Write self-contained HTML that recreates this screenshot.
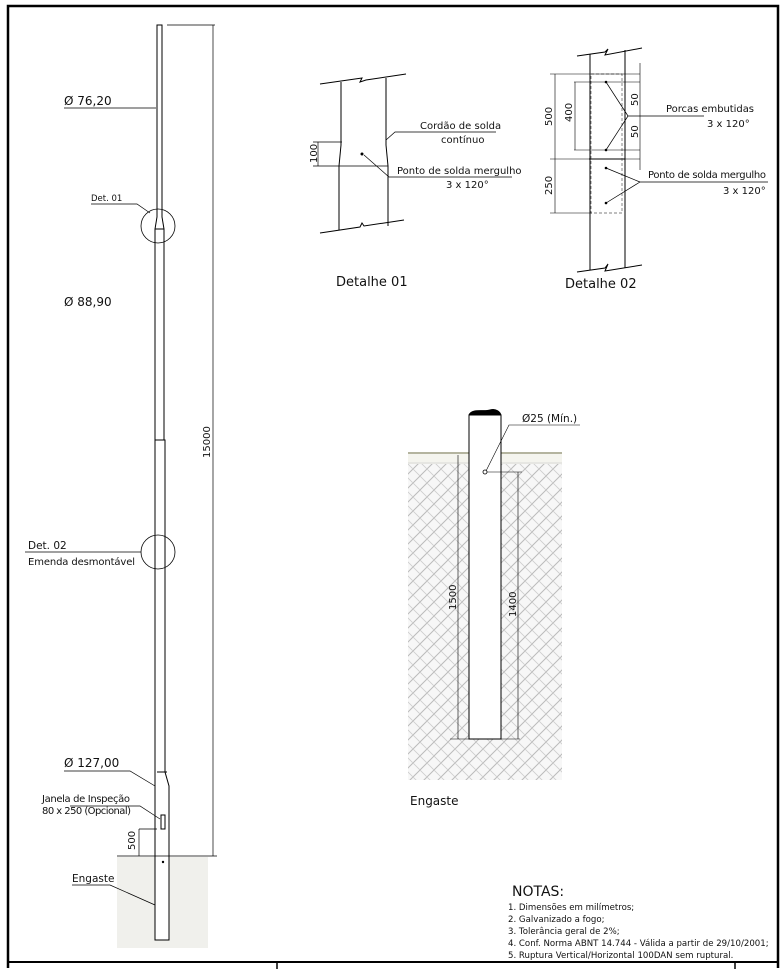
<!DOCTYPE html>
<html><head><meta charset="utf-8"><style>
body{margin:0;background:#fff}
svg{display:block}
text{font-family:"DejaVu Sans","Liberation Sans",sans-serif;fill:#111}
</style></head><body>
<svg width="780" height="969" viewBox="0 0 780 969" xmlns="http://www.w3.org/2000/svg">
<defs>
<pattern id="hat" width="14" height="14" patternUnits="userSpaceOnUse">
<rect width="14" height="14" fill="#f7f7f7"/>
<path d="M0 14L14 0M-3 3L3 -3M11 17L17 11" stroke="#bbb" stroke-width="1"/>
<path d="M0 0L7 7M7 7L14 14" stroke="#ccc" stroke-width="0.8"/>
</pattern>
</defs>
<g stroke="#000" fill="none">
<path d="M8 968V6H778V968" stroke-width="2.5"/>
<path d="M8 962H778" stroke-width="2"/>
<path d="M277 962V969M735 962V969" stroke-width="1.5"/>
</g>
<rect x="117" y="857" width="91" height="91" fill="#f0f0ec"/>
<g stroke="#000" fill="none" stroke-width="1">
<path d="M157 25H162V217L164 229V440H165V772L169 786V940H155V786V440H155V229L157 217Z" fill="#fff"/>
<path d="M155 229H164M155 440H165M157 772H167"/>
<circle cx="158" cy="226" r="17" stroke-width="0.8"/>
<circle cx="158" cy="552" r="17" stroke-width="0.8"/>
<rect x="161" y="815" width="4" height="14" fill="#fff"/>
<path d="M167 25H215M213 25V856M117 856H217M139 829H157M139 829V856" stroke-width="0.7"/>
<path d="M64 108H156M91 204H137L150 213M64 771H130L155 786M70 806H140L160 819M72 885H110L155 905" stroke-width="0.7"/>
<path d="M25 552H141" stroke-width="0.7"/>
</g>
<circle cx="163" cy="862" r="1.2" fill="#000"/>
<text x="64" y="105" font-size="12">Ø 76,20</text>
<text x="91" y="201" font-size="8.5">Det. 01</text>
<text x="64" y="306" font-size="12">Ø 88,90</text>
<text x="28" y="549" font-size="10.5">Det. 02</text>
<text x="28" y="565" font-size="10" textLength="107">Emenda desmontável</text>
<text x="64" y="767" font-size="12">Ø 127,00</text>
<text x="42" y="802" font-size="10" textLength="88">Janela de Inspeção</text>
<text x="42" y="814" font-size="10" textLength="89">80 x 250 (Opcional)</text>
<text x="72" y="882" font-size="10.5">Engaste</text>
<text font-size="10" transform="translate(135 850) rotate(-90)">500</text>
<text font-size="10" transform="translate(210 458) rotate(-90)">15000</text>

<g stroke="#000" fill="none" stroke-width="1">
<path d="M320 84L362 78L360 82L366 80L406 74M320 233L360 227L362 223L364 226L404 220"/>
<path d="M341 82V145L339 166V230M386 78V145L388 166V226"/>
<path d="M339 166H388M313 142H342M313 166H340M318 142V166" stroke-width="0.7"/>
<path d="M386 140L395 132H496M364 155L389 177H512" stroke-width="0.7"/>
</g>
<circle cx="362" cy="154" r="1.5" fill="#000"/>
<text font-size="10" transform="translate(317 163) rotate(-90)">100</text>
<text x="420" y="129" font-size="10">Cordão de solda</text>
<text x="441" y="143" font-size="10">contínuo</text>
<text x="397" y="174" font-size="10">Ponto de solda mergulho</text>
<text x="446" y="188" font-size="10">3 x 120°</text>
<text x="336" y="286" font-size="13">Detalhe 01</text>

<g stroke="#000" fill="none" stroke-width="1">
<path d="M577 56L605 52L608 49L605 55L642 48M577 272L605 268L608 264L605 271L642 265"/>
<path d="M590 54V270M625 50V268M589 159H625"/>
<rect x="591" y="74" width="31" height="139" stroke-dasharray="3,2" stroke-width="0.7" stroke="#555"/>
<path d="M550 74H640M574 82H640M574 150H640M550 159H640M550 213H592M555 74V213M575 82V150M640 63V170" stroke-width="0.6"/>
<path d="M606 82L628 116M606 150L628 116M628 116H704M606 168L640 182M606 203L640 182M640 182H768" stroke-width="0.7"/>
</g>
<circle cx="606" cy="82" r="1.3" fill="#000"/><circle cx="606" cy="150" r="1.3" fill="#000"/>
<circle cx="606" cy="168" r="1.3" fill="#000"/><circle cx="606" cy="203" r="1.3" fill="#000"/>
<text font-size="10" transform="translate(552 126) rotate(-90)">500</text>
<text font-size="10" transform="translate(572 122) rotate(-90)">400</text>
<text font-size="10" transform="translate(638 106) rotate(-90)">50</text>
<text font-size="10" transform="translate(638 138) rotate(-90)">50</text>
<text font-size="10" transform="translate(552 195) rotate(-90)">250</text>
<text x="666" y="112" font-size="10" textLength="88">Porcas embutidas</text>
<text x="707" y="127" font-size="10">3 x 120°</text>
<text x="648" y="178" font-size="10" textLength="118">Ponto de solda mergulho</text>
<text x="723" y="194" font-size="10">3 x 120°</text>
<text x="565" y="288" font-size="13">Detalhe 02</text>

<rect x="408" y="462" width="154" height="318" fill="url(#hat)"/>
<rect x="408" y="454" width="154" height="10" fill="#f4f4ee"/>
<g stroke="#000" fill="none" stroke-width="1">
<path d="M408 453H469M501 453H562" stroke="#886" stroke-width="1.2"/>
<path d="M408 463H469M501 463H562" stroke="#bbb" stroke-width="0.6"/>
<rect x="469" y="415" width="32" height="324" fill="#fff"/>
<path d="M469 415C472 408 484 412 490 410C496 408 500 412 501 415" fill="#000"/>
<path d="M458 455V739M518 472V739M450 739H520M484 472H522M486 471L509 425H580" stroke-width="0.6"/>
</g>
<circle cx="485" cy="472" r="2" fill="#fff" stroke="#000" stroke-width="0.8"/>
<text x="522" y="422" font-size="10.5">Ø25 (Mín.)</text>
<text font-size="10" transform="translate(456 610) rotate(-90)">1500</text>
<text font-size="10" transform="translate(516 617) rotate(-90)">1400</text>
<text x="410" y="805" font-size="12">Engaste</text>

<text x="512" y="896" font-size="14">NOTAS:</text>
<g font-size="8.6">
<text x="508" y="910">1. Dimensões em milímetros;</text>
<text x="508" y="922">2. Galvanizado a fogo;</text>
<text x="508" y="934">3. Tolerância geral de 2%;</text>
<text x="508" y="946">4. Conf. Norma ABNT 14.744 - Válida a partir de 29/10/2001;</text>
<text x="508" y="958">5. Ruptura Vertical/Horizontal 100DAN sem ruptural.</text>
</g>
</svg>
</body></html>
